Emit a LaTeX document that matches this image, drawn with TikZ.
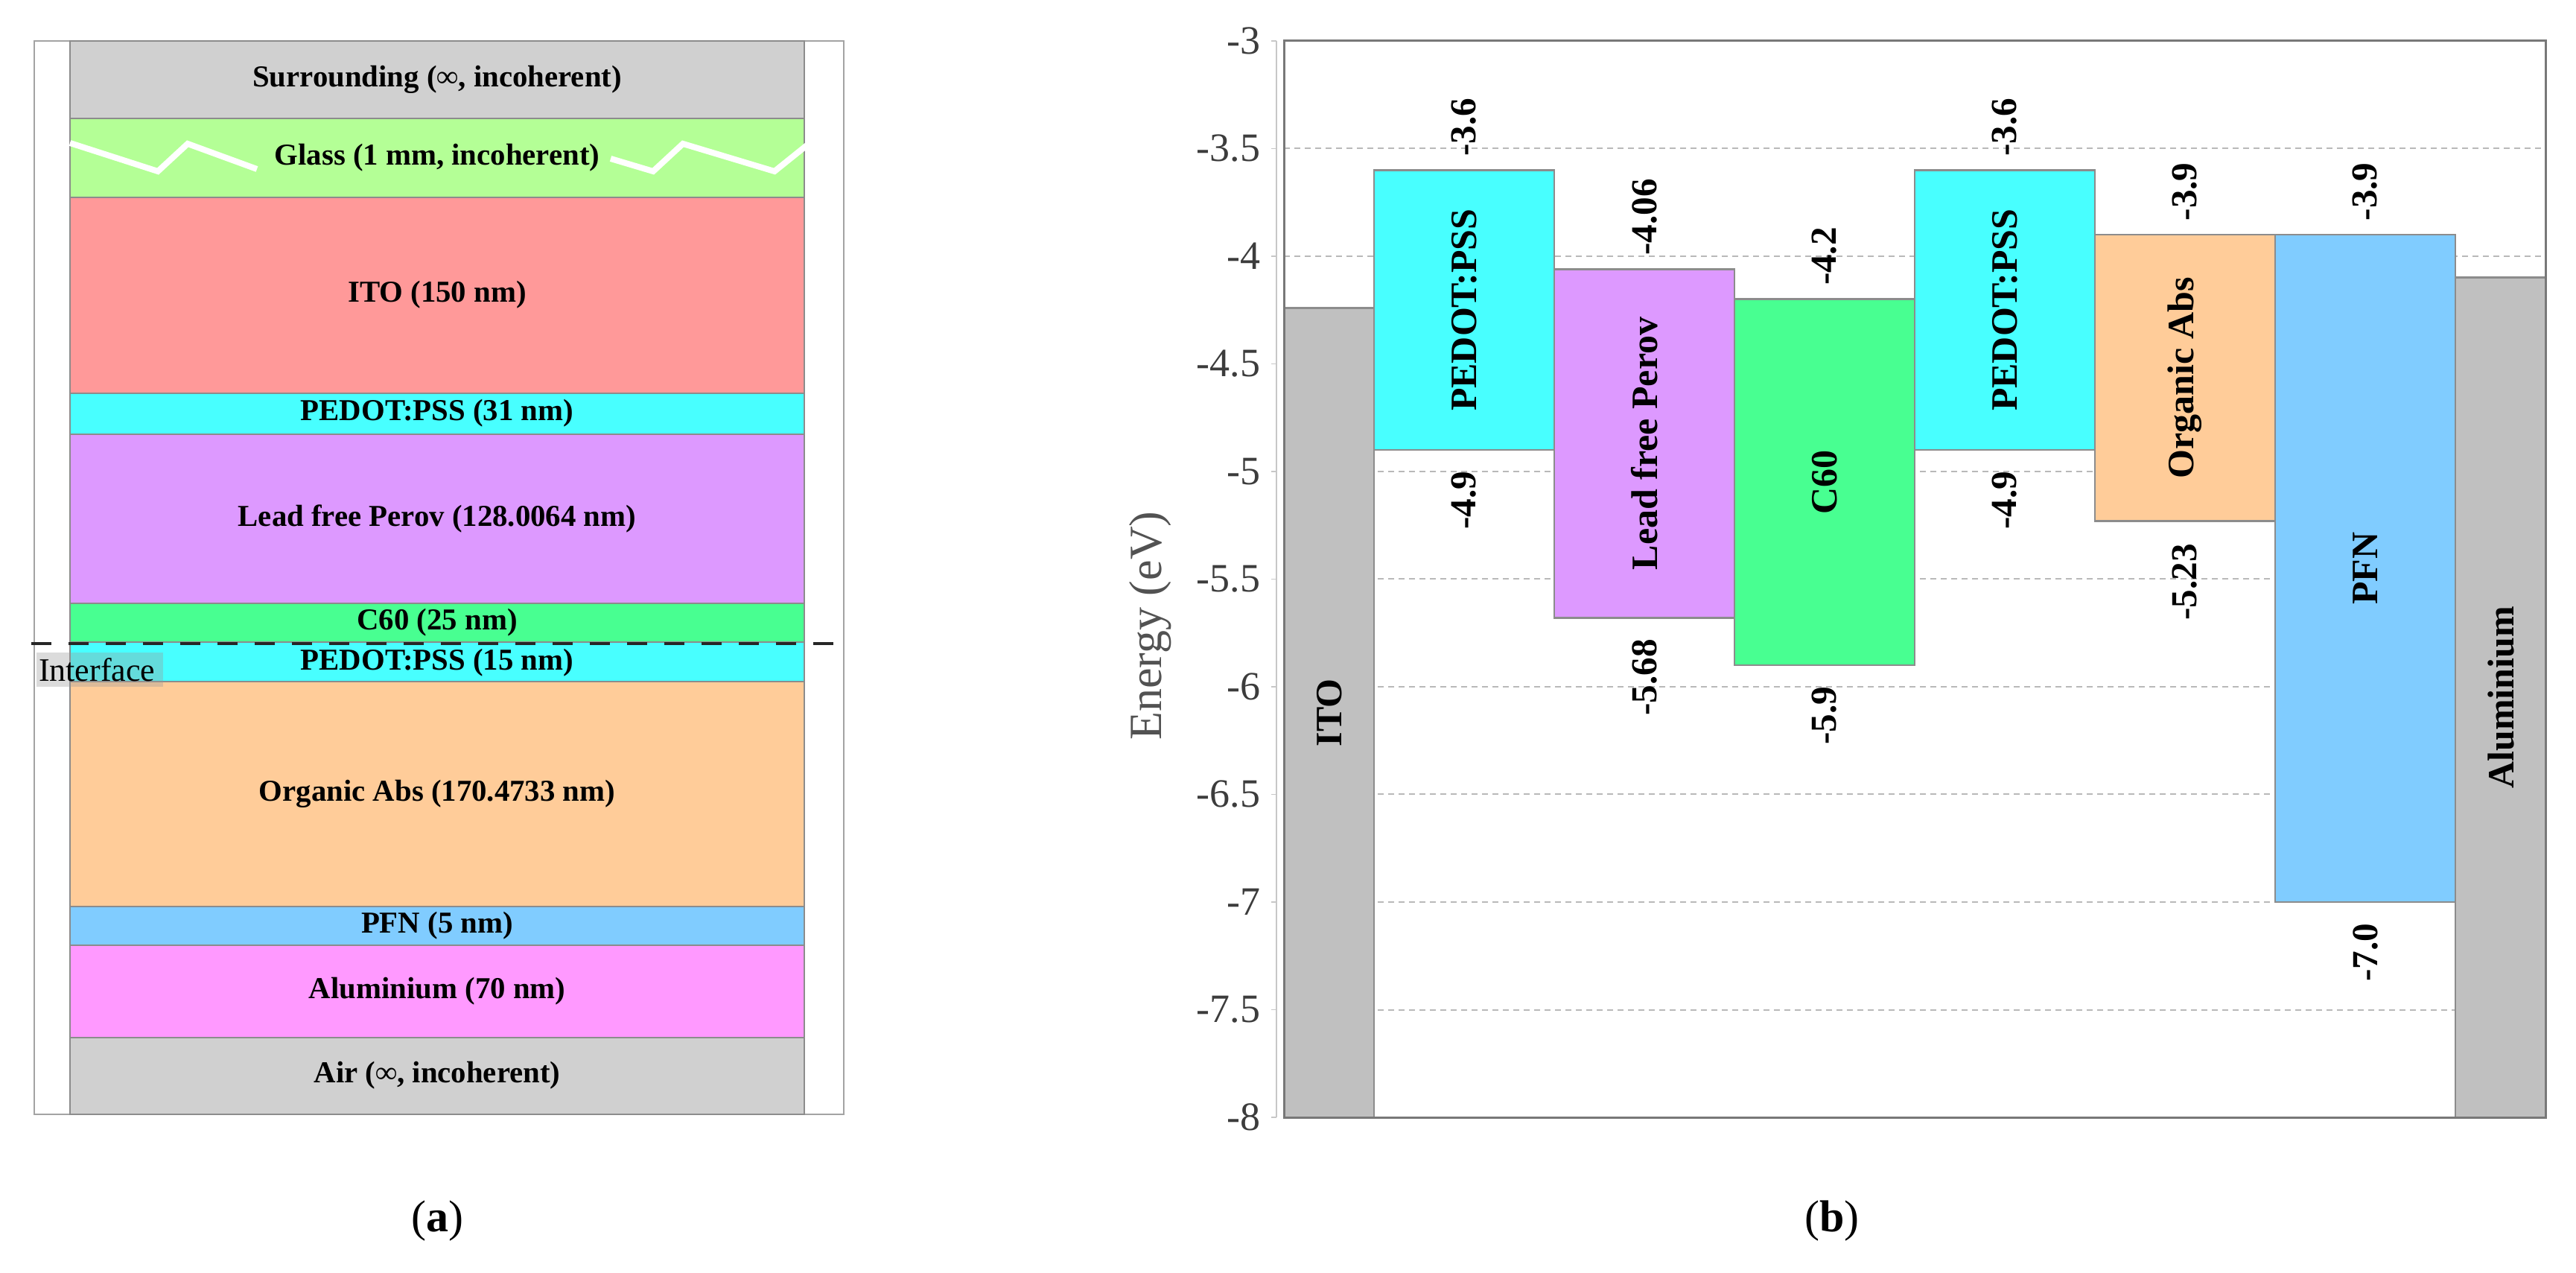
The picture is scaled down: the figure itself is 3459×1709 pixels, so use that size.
\documentclass[tikz,border=0pt]{standalone}
\usepackage{fontspec}
\setmainfont{Liberation Serif}
\definecolor{cSur}{RGB}{208,208,208}
\definecolor{cGlass}{RGB}{180,255,150}
\definecolor{cITO}{RGB}{255,153,153}
\definecolor{cPED}{RGB}{72,255,255}
\definecolor{cPer}{RGB}{221,153,255}
\definecolor{cCsix}{RGB}{72,255,145}
\definecolor{cOrg}{RGB}{255,204,153}
\definecolor{cPFN}{RGB}{128,204,255}
\definecolor{cAl}{RGB}{255,153,255}
\definecolor{cMet}{RGB}{192,192,192}
\definecolor{cEdge}{RGB}{140,140,140}
\definecolor{cFrame}{RGB}{120,120,120}
\definecolor{cGrid}{RGB}{185,185,185}
\definecolor{cTick}{RGB}{60,60,60}
\newcommand{\EY}[1]{55+(-3-(#1))*289}
\begin{document}
\begin{tikzpicture}[x=0.25pt,y=-0.25pt,
  layerbox/.style={draw=cEdge, line width=0.6pt},
  llabel/.style={inner sep=0pt, font=\fontsize{10.2}{12}\selectfont\bfseries},
  ebox/.style={draw=cEdge, line width=0.7pt},
  blabel/.style={inner sep=0pt, rotate=90, font=\fontsize{12.5}{14}\selectfont\bfseries},
  vlabel/.style={inner sep=0pt, rotate=90, font=\fontsize{12.3}{14}\selectfont\bfseries},
  ticklab/.style={inner sep=0pt, anchor=east, text=cTick, font=\fontsize{13.5}{15}\selectfont},
  gridline/.style={draw=cGrid, line width=0.5pt, dash pattern=on 2pt off 1.5pt},
  caption/.style={inner sep=0pt, font=\fontsize{15}{18}\selectfont}]
\useasboundingbox (0,0) rectangle (3459,1709);

% ---------------- panel (a) ----------------
\draw[cEdge!80, line width=0.5pt] (46,55) rectangle (1133,1496);
\foreach \ya/\yb/\c in {55/159/cSur, 159/265/cGlass, 265/528/cITO, 528/583/cPED,
  583/810/cPer, 810/862/cCsix, 862/915/cPED, 915/1217/cOrg, 1217/1269/cPFN,
  1269/1393/cAl, 1393/1496/cSur}
  \draw[layerbox, fill=\c] (94,\ya) rectangle (1080,\yb);
\draw[white, line width=2pt] (94,192) -- (212,230) -- (252,193) -- (345,227);
\draw[white, line width=2pt] (820,213) -- (877,230) -- (917,193) -- (1040,230) -- (1086,193);

\node[llabel] (sur) at (587,107) {Surrounding (∞, incoherent)};
\node[llabel] (gla) at (587,212) {Glass (1 mm, incoherent)};
\node[llabel] (ito) at (587,396) {ITO (150 nm)};
\node[llabel] (pe1) at (587,555) {PEDOT:PSS (31 nm)};
\node[llabel] (per) at (587,696) {Lead free Perov (128.0064 nm)};
\node[llabel] (c60) at (587,836) {C60 (25 nm)};
\node[llabel] (pe2) at (587,890) {PEDOT:PSS (15 nm)};
\node[llabel] (org) at (587,1066) {Organic Abs (170.4733 nm)};
\node[llabel] (pfn) at (587,1243) {PFN (5 nm)};
\node[llabel] (alu) at (587,1331) {Aluminium (70 nm)};
\node[llabel] (air) at (587,1444) {Air (∞, incoherent)};

\draw[black!85, line width=1pt, dash pattern=on 6.75pt off 5.75pt] (42,864) -- (1133,864);
\node[inner sep=0pt, anchor=west, minimum height=46*0.25pt, text width=170*0.25pt,
  fill=gray!80, fill opacity=0.35, text opacity=1,
  font=\fontsize{11}{12}\selectfont] (iface) at (48,899) {\hspace*{0.8pt}Interface};

\node[caption] (capa) at (587,1639) {(\textbf{a})};

% ---------------- panel (b) ----------------
\foreach \e in {-3.5,-4,-4.5,-5,-5.5,-6,-6.5,-7,-7.5}
  \draw[gridline] (1724,{\EY{\e}}) -- (3418,{\EY{\e}});

\draw[cGrid!80, line width=0.4pt] (1714,55) -- (1714,1500);
\foreach \e/\t in {-3/-3,-3.5/-3.5,-4/-4,-4.5/-4.5,-5/-5,-5.5/-5.5,-6/-6,-6.5/-6.5,-7/-7,-7.5/-7.5,-8/-8}{
  \draw[cGrid!80, line width=0.4pt] (1707,{\EY{\e}}) -- (1714,{\EY{\e}});
  \node[ticklab] at (1693,{\EY{\e}}) {\t};
}
\node[inner sep=0pt, rotate=90, text=black!68, font=\fontsize{15.5}{18}\selectfont] (ylab) at (1545,840) {Energy (eV)};

% boxes
\draw[ebox, fill=cMet] (1724,{\EY{-4.24}}) rectangle (1845,1500);
\draw[ebox, fill=cPED] (1845,{\EY{-3.6}}) rectangle (2087,{\EY{-4.9}});
\draw[ebox, fill=cPer] (2087,{\EY{-4.06}}) rectangle (2329,{\EY{-5.68}});
\draw[ebox, fill=cCsix] (2329,{\EY{-4.2}}) rectangle (2571,{\EY{-5.9}});
\draw[ebox, fill=cPED] (2571,{\EY{-3.6}}) rectangle (2813,{\EY{-4.9}});
\draw[ebox, fill=cOrg] (2813,{\EY{-3.9}}) rectangle (3055,{\EY{-5.23}});
\draw[ebox, fill=cPFN] (3055,{\EY{-3.9}}) rectangle (3297,{\EY{-7.0}});
\draw[ebox, fill=cMet] (3297,{\EY{-4.1}}) rectangle (3418,1500);

\draw[cFrame, line width=0.75pt] (1724,1500) -- (1724,55) -- (3418,55) -- (3418,1500) -- cycle;

% box labels
\node[blabel] (bito) at (1785,{(\EY{-4.24}+1500)/2}) {ITO};
\node[blabel] (bpe1) at (1966,{(\EY{-3.6}+\EY{-4.9})/2}) {PEDOT:PSS};
\node[blabel] (bper) at (2208,{(\EY{-4.06}+\EY{-5.68})/2}) {Lead free Perov};
\node[blabel] (bc60) at (2450,{(\EY{-4.2}+\EY{-5.9})/2}) {C60};
\node[blabel] (bpe2) at (2692,{(\EY{-3.6}+\EY{-4.9})/2}) {PEDOT:PSS};
\node[blabel] (borg) at (2934,{(\EY{-3.9}+\EY{-5.23})/2}) {Organic Abs};
\node[blabel] (bpfn) at (3176,{(\EY{-3.9}+\EY{-7.0})/2}) {PFN};
\node[blabel] (balu) at (3358,{(\EY{-4.1}+1500)/2}) {Aluminium};

% value labels
\node[vlabel, anchor=west] (v1t) at (1966,{\EY{-3.6}-18}) {-3.6};
\node[vlabel, anchor=east] (v1b) at (1966,{\EY{-4.9}+28}) {-4.9};
\node[vlabel, anchor=west] (v2t) at (2208,{\EY{-4.06}-18}) {-4.06};
\node[vlabel, anchor=east] (v2b) at (2208,{\EY{-5.68}+28}) {-5.68};
\node[vlabel, anchor=west] (v3t) at (2450,{\EY{-4.2}-18}) {-4.2};
\node[vlabel, anchor=east] (v3b) at (2450,{\EY{-5.9}+28}) {-5.9};
\node[vlabel, anchor=west] (v4t) at (2692,{\EY{-3.6}-18}) {-3.6};
\node[vlabel, anchor=east] (v4b) at (2692,{\EY{-4.9}+28}) {-4.9};
\node[vlabel, anchor=west] (v5t) at (2934,{\EY{-3.9}-18}) {-3.9};
\node[vlabel, anchor=east] (v5b) at (2934,{\EY{-5.23}+30}) {-5.23};
\node[vlabel, anchor=west] (v6t) at (3176,{\EY{-3.9}-18}) {-3.9};
\node[vlabel, anchor=east] (v6b) at (3176,{\EY{-7.0}+28}) {-7.0};

\node[caption] (capb) at (2460,1639) {(\textbf{b})};
\end{tikzpicture}
\end{document}
